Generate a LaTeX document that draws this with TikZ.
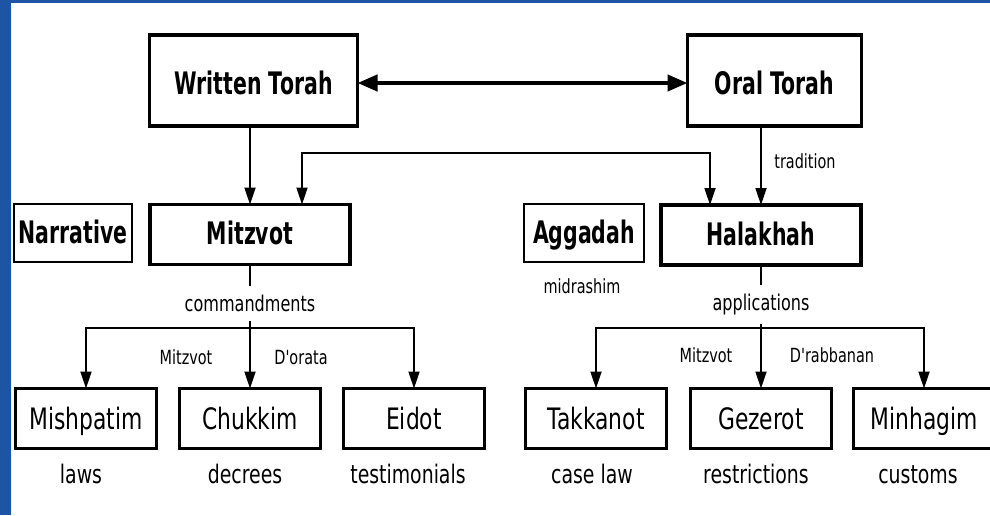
\documentclass[tikz,border=0pt]{standalone}
\usepackage{fontspec}
\usepackage{tikz}
\usetikzlibrary{positioning,arrows.meta}
\newfontfamily\diagfont{DejaVu Sans}[FakeStretch=0.74]
\newfontfamily\diagboldfont{DejaVu Sans}[FakeStretch=0.66]
\definecolor{frameblue}{RGB}{30,84,166}

\begin{document}
\begin{tikzpicture}[
    x=1pt, y=-1pt,
    every node/.style={
        inner sep=0pt,
        outer sep=0pt,
    },
    topbox/.style={
        draw=black, line width=3.5pt,
        text height=27pt, text depth=0pt,
        font=\diagboldfont\bfseries\fontsize{31}{34}\selectfont
    },
    midbox/.style={
        draw=black, line width=3.5pt,
        minimum width=200pt, minimum height=60pt,
        text height=20.5pt, text depth=0pt,
        font=\diagboldfont\bfseries\fontsize{31}{34}\selectfont
    },
    sidebox/.style={
        draw=black, line width=1.5pt,
        minimum height=58pt,
        text height=20.5pt, text depth=0pt,
        font=\diagboldfont\bfseries\fontsize{31}{34}\selectfont
    },
    leafbox/.style={
        draw=black, line width=3pt,
        minimum width=141pt, minimum height=60pt,
        text height=21pt, text depth=0pt,
        font=\diagfont\fontsize{29.5}{32}\selectfont
    },
    caption/.style={anchor=base, font=\diagfont\fontsize{25.5}{28}\selectfont},
    note/.style={anchor=base, font=\diagfont\fontsize{19.5}{22}\selectfont},
    branchlabel/.style={fill=white, inner xsep=2pt, inner ysep=9pt,
        font=\diagfont\fontsize{21.7}{24}\selectfont},
    conn/.style={line width=1.8pt, -{Triangle[length=17pt,width=11pt]}},
    twoway/.style={line width=1.8pt, {Triangle[length=17pt,width=11pt]}-{Triangle[length=17pt,width=11pt]}},
    bigconn/.style={line width=4pt, {Triangle[length=20pt,width=16pt]}-{Triangle[length=20pt,width=16pt]}},
  ]
  \useasboundingbox (0,0) rectangle (990,515);
  \fill[frameblue] (0,0) rectangle (11,515);
  \fill[frameblue] (0,0) rectangle (990,3);

  \node [topbox, minimum width=208pt, minimum height=91pt] (written) at (253.5,80.5) {Written Torah};
  \node [topbox, minimum width=174pt, minimum height=91pt] (oral) at (774.5,80.5) {Oral Torah};

  \node [sidebox, minimum width=118pt] (narrative) at (73,233) {Narrative};
  \node [midbox] (mitzvot) at (250,234.5) {Mitzvot};
  \node [sidebox, minimum width=120pt] (aggadah) at (584,233) {Aggadah};
  \node [midbox] (halakhah) at (761,235) {Halakhah};

  \node [leafbox] (mishpatim) at (86,418.5) {Mishpatim};
  \node [leafbox] (chukkim) at (250,418.5) {Chukkim};
  \node [leafbox] (eidot) at (414,418.5) {Eidot};
  \node [leafbox] (takkanot) at (596,418.5) {Takkanot};
  \node [leafbox] (gezerot) at (761,418.5) {Gezerot};
  \node [leafbox] (minhagim) at (924,418.5) {Minhagim};

  \node [caption] (laws) at ([xshift=-5pt,yshift=-34.5pt]mishpatim.south) {laws};
  \node [caption] (decrees) at ([xshift=-5pt,yshift=-34.5pt]chukkim.south) {decrees};
  \node [caption] (testimonials) at ([xshift=-6pt,yshift=-34.5pt]eidot.south) {testimonials};
  \node [caption] (caselaw) at ([xshift=-4pt,yshift=-34.5pt]takkanot.south) {case law};
  \node [caption] (restrictions) at ([xshift=-5pt,yshift=-34.5pt]gezerot.south) {restrictions};
  \node [caption] (customs) at ([xshift=-6pt,yshift=-34.5pt]minhagim.south) {customs};

  \node [note] (tradition) at (805,168) {tradition};
  \node [note] (midrashim) at (582,293) {midrashim};
  \node [note] (mitzvotleft) at (186,364) {Mitzvot};
  \node [note] (dorata) at (301,364) {D'orata};
  \node [note] (mitzvotright) at (706,362) {Mitzvot};
  \node [note] (drabbanan) at (832,362) {D'rabbanan};

  \coordinate (cmdbar) at (250,328);
  \coordinate (appbar) at (761,328);

  \draw [bigconn] ([yshift=-2.5pt]written.east) -- ([yshift=-2.5pt]oral.west);
  \draw [conn] (mitzvot.north |- written.south) -- (mitzvot.north);
  \draw [conn] (halakhah.north |- oral.south) -- (halakhah.north);
  \draw [twoway] ([xshift=52pt]mitzvot.north) -- ++(0,-51.5) -| ([xshift=-51pt]halakhah.north);

  \draw [line width=1.8pt] (mitzvot.south) -- node [branchlabel, pos=0.62] (commandments) {commandments} (cmdbar);
  \draw [conn] (cmdbar) -| (mishpatim.north);
  \draw [conn] (cmdbar) -- (chukkim.north);
  \draw [conn] (cmdbar) -| (eidot.north);

  \draw [line width=1.8pt] (halakhah.south) -- node [branchlabel, pos=0.62] (applications) {applications} (appbar);
  \draw [conn] (appbar) -| (takkanot.north);
  \draw [conn] (appbar) -- (gezerot.north);
  \draw [conn] (appbar) -| (minhagim.north);
\end{tikzpicture}
\end{document}
